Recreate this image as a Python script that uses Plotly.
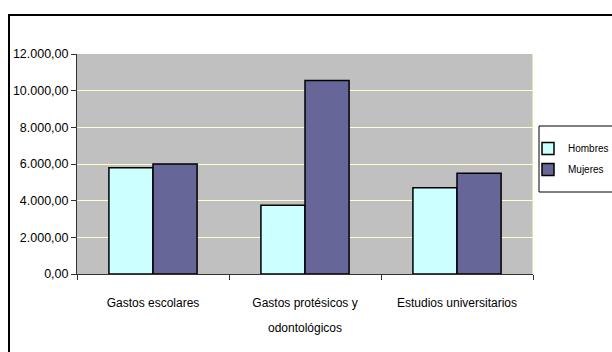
import plotly.graph_objects as go

categories = ["Gastos escolares", "Gastos protésicos y odontológicos", "Estudios universitarios"]
hombres = [5800, 3750, 4700]
mujeres = [6000, 10550, 5500]
tick_vals = [0, 2000, 4000, 6000, 8000, 10000, 12000]
tick_text = ["0,00", "2.000,00", "4.000,00", "6.000,00", "8.000,00", "10.000,00", "12.000,00"]

W, H = 612, 352
FONT = "Liberation Sans, Arial, sans-serif"
TXT = 12


def sp(s):
    return f"<span style='font-size:{TXT}px'>{s}</span>"


x_ticktext = [sp("Gastos escolares"),
              sp("Gastos protésicos y") + "<br>" + sp("odontológicos"),
              sp("Estudios universitarios")]

fig = go.Figure()
fig.add_bar(name="Hombres", x=categories, y=hombres, legendgroup="h",
            marker=dict(color="#CCFFFF", line=dict(color="black", width=1.5)))
fig.add_bar(name="Mujeres", x=categories, y=mujeres, legendgroup="m",
            marker=dict(color="#666699", line=dict(color="black", width=1.5)))

x0, x1 = 77 / W, 533 / W
y0, y1 = 1 - 274 / H, 1 - 54 / H

fig.update_layout(
    width=W, height=H,
    margin=dict(l=0, r=0, t=0, b=0, autoexpand=False),
    paper_bgcolor="white",
    plot_bgcolor="#C0C0C0",
    barmode="group",
    bargap=0.42,
    bargroupgap=0,
    font=dict(family=FONT, size=TXT, color="black"),
    xaxis=dict(domain=[x0, x1], automargin=False, showgrid=False, showline=True,
               linecolor="#333333", linewidth=1, ticks="outside", tickson="boundaries",
               ticklen=5, tickcolor="#333333", tickfont=dict(size=19),
               tickmode="array", tickvals=categories, ticktext=x_ticktext,
               ticklabelstandoff=9, fixedrange=True),
    yaxis=dict(domain=[y0, y1], automargin=False, range=[0, 12000], tickvals=tick_vals,
               ticktext=tick_text, showgrid=True, gridcolor="#FFFFCC", gridwidth=1,
               showline=True, linecolor="#333333", linewidth=1, ticks="outside", ticklen=5,
               tickcolor="#333333", zeroline=False, tickfont=dict(size=12.5), fixedrange=True),
    legend=dict(x=528 / W, y=1 - 134 / H, xanchor="left", yanchor="top",
                bgcolor="rgba(0,0,0,0)", borderwidth=0,
                font=dict(size=10), traceorder="grouped", tracegroupgap=2, itemwidth=30),
    shapes=[
        dict(type="rect", xref="paper", yref="paper", x0=9 / W, x1=1.05, y0=-0.05, y1=1 - 15 / H,
             line=dict(color="black", width=2), fillcolor="rgba(0,0,0,0)", layer="below"),
        dict(type="line", xref="paper", yref="paper", x0=x1, x1=x1, y0=y0, y1=y1,
             line=dict(color="#FFFFCC", width=1)),
        dict(type="rect", xref="paper", yref="paper", x0=539 / W, x1=1.05,
             y0=1 - 192 / H, y1=1 - 126 / H,
             line=dict(color="black", width=1), fillcolor="white", layer="below"),
    ],
)

fig.write_html("out.html")
